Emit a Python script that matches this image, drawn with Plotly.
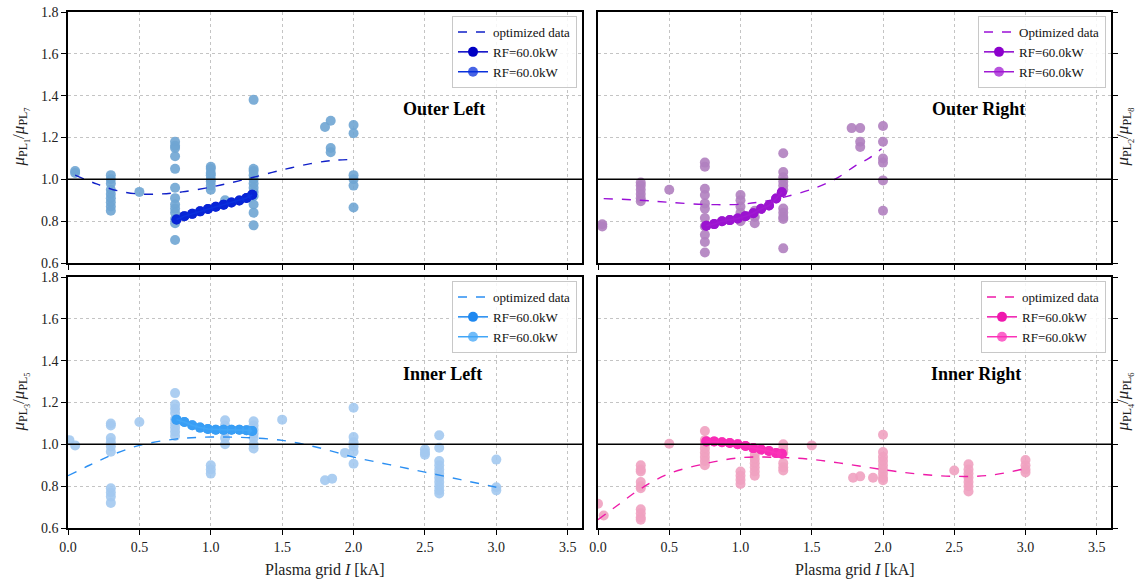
import plotly.graph_objects as go
from plotly.subplots import make_subplots

# ---------------- data ----------------
# Outer Left (top-left)
ol_raw_x = [0.05, 0.05,
            0.3, 0.3, 0.3, 0.3, 0.3, 0.3, 0.3, 0.3, 0.3,
            0.5,
            0.75, 0.75, 0.75, 0.75, 0.75, 0.75, 0.75, 0.75, 0.75, 0.75, 0.75, 0.75, 0.75,
            1.0, 1.0, 1.0, 1.0, 1.0, 1.0, 1.0, 1.0,
            1.1,
            1.3, 1.3, 1.3, 1.3, 1.3, 1.3, 1.3, 1.3, 1.3, 1.3, 1.3, 1.3,
            1.8, 1.84, 1.84, 1.84,
            2.0, 2.0, 2.0, 2.0, 2.0, 2.0]
ol_raw_y = [1.04, 1.03,
            1.02, 1.0, 0.98, 0.95, 0.93, 0.91, 0.89, 0.87, 0.85,
            0.94,
            1.18, 1.16, 1.15, 1.11, 1.05, 0.96, 0.91, 0.88, 0.86, 0.84, 0.81, 0.79, 0.71,
            1.06, 1.05, 1.03, 1.02, 1.0, 0.99, 0.97, 0.95,
            0.90,
            1.38, 1.05, 1.04, 1.02, 1.0, 0.98, 0.96, 0.94, 0.92, 0.88, 0.84, 0.78,
            1.25, 1.28, 1.15, 1.13,
            1.26, 1.22, 1.02, 1.0, 0.97, 0.865]
ol_fit_x = [0.05, 0.2, 0.35, 0.5, 0.65, 0.8, 1.0, 1.15, 1.3, 1.5, 1.7, 1.85, 1.98]
ol_fit_y = [1.02, 0.978, 0.945, 0.93, 0.93, 0.94, 0.963, 0.985, 1.01, 1.045, 1.075, 1.09, 1.095]

# Outer Right (top-right)
or_raw_x = [0.03, 0.03,
            0.3, 0.3, 0.3, 0.3, 0.3, 0.3,
            0.5,
            0.75, 0.75, 0.75, 0.75, 0.75, 0.75, 0.75, 0.75, 0.75, 0.75, 0.75,
            1.0, 1.0, 1.0, 1.0, 1.0, 1.0,
            1.1, 1.1, 1.1,
            1.3, 1.3, 1.3, 1.3, 1.3, 1.3, 1.3, 1.3, 1.3, 1.3, 1.3,
            1.78, 1.84, 1.84, 1.84,
            2.0, 2.0, 2.0, 2.0, 2.0, 2.0]
or_raw_y = [0.785, 0.775,
            0.985, 0.97, 0.95, 0.93, 0.91, 0.895,
            0.95,
            1.08, 1.06, 0.955, 0.925, 0.885, 0.86, 0.815, 0.775, 0.735, 0.70, 0.65,
            0.925, 0.90, 0.87, 0.84, 0.815, 0.80,
            0.85, 0.82, 0.79,
            1.125, 1.035, 1.01, 0.99, 0.97, 0.95, 0.86, 0.84, 0.82, 0.81, 0.67,
            1.245, 1.245, 1.18, 1.155,
            1.255, 1.18, 1.10, 1.08, 0.995, 0.85]
or_fit_x = [0.04, 0.3, 0.5, 0.75, 1.0, 1.15, 1.3, 1.5, 1.67, 1.81, 1.9, 1.99]
or_fit_y = [0.908, 0.9, 0.89, 0.88, 0.881, 0.893, 0.914, 0.953, 1.003, 1.067, 1.1, 1.146]

# Inner Left (bottom-left)
il_raw_x = [0.01, 0.05,
            0.3, 0.3, 0.3, 0.3, 0.3, 0.3, 0.3, 0.3, 0.3, 0.3,
            0.5,
            0.75, 0.75, 0.75, 0.75, 0.75, 0.75, 0.75, 0.75, 0.75,
            1.0, 1.0, 1.0,
            1.1, 1.1, 1.1, 1.1, 1.1,
            1.3, 1.3, 1.3, 1.3, 1.3, 1.3, 1.3,
            1.5,
            1.8, 1.85, 1.94,
            2.0, 2.0, 2.0, 2.0, 2.0, 2.0,
            2.5, 2.5, 2.5,
            2.6, 2.6, 2.6, 2.6, 2.6, 2.6, 2.6, 2.6, 2.6, 2.6, 2.6,
            3.0, 3.0, 3.0]
il_raw_y = [1.02, 0.995,
            1.10, 1.09, 1.03, 1.01, 0.99, 0.965, 0.79, 0.77, 0.75, 0.72,
            1.107,
            1.245, 1.19, 1.17, 1.15, 1.12, 1.10, 1.08, 1.06, 1.04,
            0.90, 0.88, 0.86,
            1.115, 1.09, 1.06, 1.03, 1.0,
            1.11, 1.09, 1.07, 1.05, 1.03, 1.0, 0.98,
            1.118,
            0.828, 0.836, 0.959,
            1.175, 1.035, 1.01, 0.99, 0.965, 0.907,
            0.975, 0.96, 0.95,
            1.043, 0.984, 0.92, 0.90, 0.88, 0.86, 0.84, 0.82, 0.80, 0.78, 0.765,
            0.927, 0.795, 0.78]
il_fit_x = [0.0, 0.15, 0.3, 0.5, 0.75, 1.0, 1.25, 1.5, 1.75, 2.0, 2.25, 2.5, 2.75, 3.0]
il_fit_y = [0.85, 0.9, 0.947, 0.995, 1.025, 1.035, 1.032, 1.019, 0.985, 0.939, 0.903, 0.867, 0.831, 0.795]

# Inner Right (bottom-right)
ir_raw_x = [0.0, 0.04,
            0.3, 0.3, 0.3, 0.3, 0.3, 0.3, 0.3, 0.3, 0.3, 0.3,
            0.5,
            0.75, 0.75, 0.75, 0.75, 0.75, 0.75, 0.75, 0.75,
            1.0, 1.0, 1.0, 1.0,
            1.1, 1.1, 1.1, 1.1, 1.1, 1.1,
            1.3, 1.3, 1.3, 1.3, 1.3, 1.3,
            1.5,
            1.79, 1.84, 1.93,
            2.0, 2.0, 2.0, 2.0, 2.0, 2.0, 2.0, 2.0, 2.0,
            2.5,
            2.6, 2.6, 2.6, 2.6, 2.6, 2.6, 2.6,
            3.0, 3.0, 3.0, 3.0]
ir_raw_y = [0.716, 0.66,
            0.90, 0.88, 0.87, 0.82, 0.80, 0.79, 0.69, 0.67, 0.65, 0.64,
            1.003,
            1.064, 1.02, 1.0, 0.98, 0.96, 0.94, 0.92, 0.90,
            0.87, 0.85, 0.83, 0.81,
            0.95, 0.93, 0.91, 0.89, 0.87, 0.85,
            1.0, 0.98, 0.96, 0.91, 0.89, 0.875,
            0.995,
            0.84, 0.847, 0.84,
            1.046, 0.963, 0.94, 0.92, 0.90, 0.88, 0.86, 0.84, 0.828,
            0.875,
            0.905, 0.88, 0.86, 0.84, 0.82, 0.80, 0.775,
            0.925, 0.90, 0.88, 0.865]
ir_fit_x = [0.0, 0.15, 0.3, 0.5, 0.75, 1.0, 1.25, 1.5, 1.75, 2.0, 2.25, 2.5, 2.75, 3.0]
ir_fit_y = [0.64, 0.715, 0.788, 0.86, 0.907, 0.936, 0.938, 0.928, 0.905, 0.879, 0.858, 0.847, 0.852, 0.884]

# RF = 60 kW optimized points (shared current steps)
rf_x = [0.76, 0.815, 0.87, 0.925, 0.98, 1.035, 1.09, 1.145, 1.2, 1.25, 1.29]
ol_rf_y = [0.808, 0.824, 0.835, 0.847, 0.858, 0.869, 0.879, 0.889, 0.899, 0.911, 0.926]
or_rf_y = [0.778, 0.786, 0.80, 0.805, 0.813, 0.824, 0.838, 0.859, 0.875, 0.908, 0.938]
il_rf_y = [1.118, 1.107, 1.091, 1.08, 1.073, 1.07, 1.07, 1.07, 1.07, 1.067, 1.064]
ir_rf_y = [1.014, 1.014, 1.01, 1.006, 1.0, 0.992, 0.982, 0.975, 0.968, 0.958, 0.955]

panel_titles = ["Outer Left", "Outer Right", "Inner Left", "Inner Right"]
fit_labels = ["optimized data", "Optimized data", "optimized data", "optimized data"]
rf_label = "RF=60.0kW"
y_titles = ["<i>μ</i><sub>PL<sub>1</sub></sub>/<i>μ</i><sub>PL<sub>7</sub></sub>",
            "<i>μ</i><sub>PL<sub>2</sub></sub>/<i>μ</i><sub>PL<sub>8</sub></sub>",
            "<i>μ</i><sub>PL<sub>3</sub></sub>/<i>μ</i><sub>PL<sub>5</sub></sub>",
            "<i>μ</i><sub>PL<sub>4</sub></sub>/<i>μ</i><sub>PL<sub>6</sub></sub>"]
x_title = "Plasma grid <i>I</i> [kA]"
x_ticks = [0.0, 0.5, 1.0, 1.5, 2.0, 2.5, 3.0, 3.5]
y_ticks = [0.6, 0.8, 1.0, 1.2, 1.4, 1.6, 1.8]

# ---------------- styles ----------------
raw_colors = ["#6fa5d3", "#b07fbf", "#a3c9ef", "#f0a1c0"]
fit_colors = ["#1020c8", "#9a10d6", "#2b8ff2", "#ee1aa8"]
rf1_colors = ["#0000c4", "#8c00cc", "#1e88f0", "#ef18ad"]
rf2_colors = ["#0a30dc", "#a01ad2", "#42a6f7", "#fb33b8"]

panels = [
    (ol_raw_x, ol_raw_y, ol_fit_x, ol_fit_y, ol_rf_y),
    (or_raw_x, or_raw_y, or_fit_x, or_fit_y, or_rf_y),
    (il_raw_x, il_raw_y, il_fit_x, il_fit_y, il_rf_y),
    (ir_raw_x, ir_raw_y, ir_fit_x, ir_fit_y, ir_rf_y),
]

FONT = "Liberation Serif"

fig = make_subplots(rows=2, cols=2)

legend_names = ["legend", "legend2", "legend3", "legend4"]
for i, (rx, ry, fx, fy, rfy) in enumerate(panels):
    row, col = i // 2 + 1, i % 2 + 1
    lg = legend_names[i]
    fig.add_trace(go.Scatter(x=rx, y=ry, mode="markers", showlegend=False,
                             marker=dict(size=10, color=raw_colors[i], opacity=0.9, line=dict(width=0))),
                  row=row, col=col)
    fig.add_trace(go.Scatter(x=fx, y=fy, mode="lines", name=fit_labels[i], legend=lg,
                             line=dict(color=fit_colors[i], width=1.4, dash="dash", shape="spline")),
                  row=row, col=col)
    fig.add_trace(go.Scatter(x=rf_x, y=rfy, mode="lines+markers", name=rf_label, legend=lg,
                             line=dict(color=rf1_colors[i], width=1.5),
                             marker=dict(size=10, color=rf1_colors[i])),
                  row=row, col=col)
    fig.add_trace(go.Scatter(x=rf_x, y=rfy, mode="lines+markers", name=rf_label, legend=lg,
                             line=dict(color=rf2_colors[i], width=1.5),
                             marker=dict(size=10, color=rf2_colors[i], opacity=0.75)),
                  row=row, col=col)
    fig.add_hline(y=1.0, line=dict(color="black", width=1.5), row=row, col=col)

# domains (pixel-matched; page body margin removed below)
W, H = 1140, 586
L, R, T, B = 68, 29, 12, 58
pw = W - L - R
ph = H - T - B
xd_left = [0, (582 - 68) / pw]
xd_right = [(598 - 68) / pw, 1]
yd_top = [(528 - 263) / ph, 1]
yd_bot = [0, (528 - 277) / ph]

axis_common = dict(showline=True, linecolor="black", linewidth=1.5, mirror=True,
                   showgrid=True, gridcolor="#c4c4c4", griddash="dot", gridwidth=1,
                   zeroline=False, ticks="outside", ticklen=5, tickwidth=1.2, tickcolor="black",
                   automargin=False,
                   tickfont=dict(family=FONT, size=14, color="#222"))

for i in range(4):
    row, col = i // 2 + 1, i % 2 + 1
    xd = xd_left if col == 1 else xd_right
    yd = yd_top if row == 1 else yd_bot
    fig.update_xaxes(domain=xd, range=[0, 3.6], tickvals=x_ticks, tickformat=".1f",
                     showticklabels=(row == 2),
                     row=row, col=col, **axis_common)
    fig.update_yaxes(domain=yd, range=[0.6, 1.8], tickvals=y_ticks, tickformat=".1f",
                     showticklabels=(col == 1), side="left" if col == 1 else "right",
                     row=row, col=col, **axis_common)

# x-axis titles (bottom row)
for cx in [(xd_left[0] + xd_left[1]) / 2, (xd_right[0] + xd_right[1]) / 2]:
    fig.add_annotation(x=cx, y=(528 - 570) / ph, xref="paper", yref="paper",
                       text=x_title, showarrow=False, xanchor="center", yanchor="middle",
                       font=dict(family=FONT, size=16, color="#222"))

# y-axis titles
ytitle_x = [(20 - 68) / pw, (1124 - 68) / pw, (20 - 68) / pw, (1124 - 68) / pw]
ytitle_y = [(yd_top[0] + yd_top[1]) / 2, (yd_top[0] + yd_top[1]) / 2,
            (yd_bot[0] + yd_bot[1]) / 2, (yd_bot[0] + yd_bot[1]) / 2]
for i in range(4):
    fig.add_annotation(x=ytitle_x[i], y=ytitle_y[i], xref="paper", yref="paper",
                       text=y_titles[i], showarrow=False, textangle=-90,
                       xanchor="center", yanchor="middle",
                       font=dict(family=FONT, size=17, color="#222"))

# panel labels
label_pos = [(2.63, 1.335), (2.67, 1.335), (2.62, 1.335), (2.65, 1.335)]
for i in range(4):
    xr = "x" if i == 0 else f"x{i+1}"
    yr = "y" if i == 0 else f"y{i+1}"
    fig.add_annotation(x=label_pos[i][0], y=label_pos[i][1], xref=xr, yref=yr,
                       text=f"<b>{panel_titles[i]}</b>", showarrow=False,
                       font=dict(family=FONT, size=18, color="black"))

legend_style = dict(bgcolor="rgba(255,255,255,0.85)", bordercolor="#c8c8c8", borderwidth=1,
                    font=dict(family=FONT, size=13, color="#111"), tracegroupgap=0,
                    itemwidth=30, xanchor="right", yanchor="top")
leg_pos = [((577 - 68) / pw, (528 - 16) / ph), ((1106 - 68) / pw, (528 - 16) / ph),
           ((577 - 68) / pw, (528 - 281) / ph), ((1106 - 68) / pw, (528 - 281) / ph)]
layout_legends = {}
for i, lg in enumerate(legend_names):
    layout_legends[lg] = dict(x=leg_pos[i][0], y=leg_pos[i][1], **legend_style)

fig.update_layout(width=W, height=H, margin=dict(l=L, r=R, t=T, b=B, autoexpand=False),
                  plot_bgcolor="white", paper_bgcolor="white",
                  font=dict(family=FONT, color="#222"), **layout_legends)

fig.write_html("out.html", config={"displayModeBar": False})

# remove the default page margin so the figure sits at the window's top-left corner
with open("out.html", "r", encoding="utf-8") as f:
    html = f.read()
html = html.replace("<head>", "<head><style>html,body{margin:0;padding:0;overflow:hidden;}</style>", 1)
with open("out.html", "w", encoding="utf-8") as f:
    f.write(html)
